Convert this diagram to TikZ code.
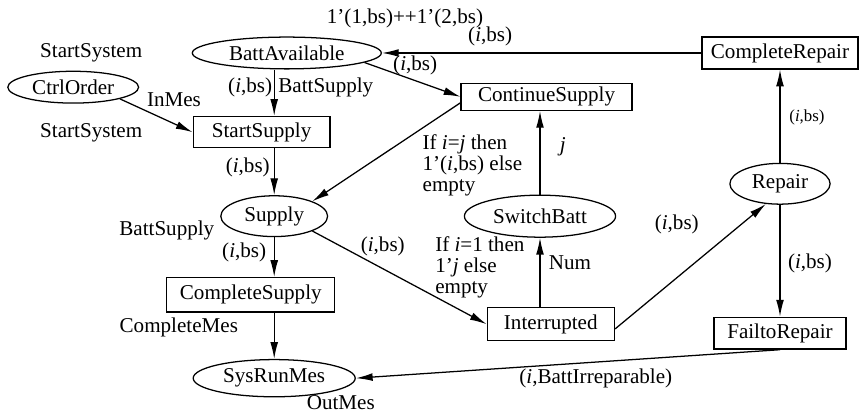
\documentclass[tikz,border=0pt]{standalone}
\usepackage{fontspec}
\setmainfont{Liberation Serif}
\usetikzlibrary{shapes.geometric,arrows.meta}

\begin{document}
\begin{tikzpicture}[
    petriplace/.style={draw,ellipse,inner sep=0pt,line width=0.6pt},
    petritrans/.style={draw,rectangle,inner sep=0pt,line width=0.6pt},
    petriarc/.style={line width=0.6pt,-{Latex[length=2.8mm,width=1.3mm]}},
    guard/.style={align=left,anchor=west,font=\linespread{0.83}\selectfont},
    font=\fontsize{10}{10}\selectfont]
    \useasboundingbox (0,0) rectangle (14.4,6.883);

    % Places
    \node[petriplace,minimum width=3.15cm,minimum height=0.53cm] (BattAvailable) at (4.78,6.0) {BattAvailable};
    \node[petriplace,minimum width=2.18cm,minimum height=0.53cm] (CtrlOrder) at (1.22,5.43) {CtrlOrder};
    \node[petriplace,minimum width=1.78cm,minimum height=0.68cm] (Supply) at (4.57,3.28) {Supply};
    \node[petriplace,minimum width=2.52cm,minimum height=0.70cm] (SwitchBatt) at (9.0,3.28) {SwitchBatt};
    \node[petriplace,minimum width=1.67cm,minimum height=0.68cm] (Repair) at (13.0,3.82) {Repair};
    \node[petriplace,minimum width=2.7cm,minimum height=0.62cm] (SysRunMes) at (4.57,0.58) {SysRunMes};

    % Transitions
    \node[petritrans,minimum width=2.28cm,minimum height=0.52cm] (StartSupply) at (4.36,4.68) {StartSupply};
    \node[petritrans,minimum width=2.85cm,minimum height=0.45cm] (ContinueSupply) at (9.11,5.27) {ContinueSupply};
    \node[petritrans,minimum width=2.6cm,minimum height=0.53cm] (CompleteRepair) at (13.0,6.0) {CompleteRepair};
    \node[petritrans,minimum width=2.8cm,minimum height=0.57cm] (CompleteSupply) at (4.18,1.97) {CompleteSupply};
    \node[petritrans,minimum width=2.12cm,minimum height=0.55cm] (Interrupted) at (9.18,1.48) {Interrupted};
    \node[petritrans,minimum width=2.2cm,minimum height=0.53cm] (FailtoRepair) at (13.0,1.33) {FailtoRepair};

    % Colour sets and initial markings
    \node (lblMarkBatt) at (6.75,6.58) {1'(1,bs)++1'(2,bs)};
    \node (lblStartSysTop) at (1.52,6.0) {StartSystem};
    \node (lblStartSysBot) at (1.52,4.67) {StartSystem};
    \node (lblBattSupplyA) at (5.43,5.43) {BattSupply};
    \node (lblBattSupplyB) at (2.78,3.05) {BattSupply};
    \node (lblNum) at (9.5,2.5) {Num};
    \node (lblCompleteMes) at (2.98,1.42) {CompleteMes};
    \node (lblOutMes) at (5.68,0.17) {OutMes};

    % Arcs
    \draw[petriarc] (CtrlOrder.south east) -- (StartSupply.west);
    \draw[petriarc] (BattAvailable.south -| Supply) -- (StartSupply.north -| Supply);
    \draw[petriarc] (StartSupply.south -| Supply) -- (Supply.north);
    \draw[petriarc] (Supply.south) -- (CompleteSupply.north -| Supply);
    \draw[petriarc] (CompleteSupply.south -| SysRunMes) -- (SysRunMes.north);
    \draw[petriarc] (BattAvailable.-7) -- (ContinueSupply.west);
    \draw[petriarc] ([yshift=-0.1cm]ContinueSupply.west) -- (Supply.north east);
    \draw[petriarc] (SwitchBatt.north) -- (ContinueSupply.south -| SwitchBatt);
    \draw[petriarc] (Supply.south east) -- (Interrupted.west);
    \draw[petriarc] (Interrupted.north -| SwitchBatt) -- (SwitchBatt.south);
    \draw[petriarc] ([yshift=-0.08cm]Interrupted.east) -- (Repair.235);
    \draw[petriarc] (Repair.north) -- (CompleteRepair.south);
    \draw[petriarc] (Repair.south) -- (FailtoRepair.north);
    \draw[petriarc] (CompleteRepair.west) -- (BattAvailable.east);
    \draw[petriarc] (FailtoRepair.south) -- (SysRunMes.east);

    % Arc inscriptions
    \node (lblInMes) at (2.9,5.22) {InMes};
    \node (lblBattIn) at (4.17,5.43) {(\textit{i},bs)};
    \node (lblRetBatt) at (8.17,6.27) {(\textit{i},bs)};
    \node (lblContBatt) at (6.92,5.8) {(\textit{i},bs)};
    \node (lblStartOut) at (4.13,4.1) {(\textit{i},bs)};
    \node[guard] (lblIfIJ) at (6.92,4.12) {If \textit{i}=\textit{j} then\\1'(\textit{i},bs) else\\empty};
    \node (lblJ) at (9.38,4.43) {\textit{j}};
    \node (lblSupplyOut) at (4.07,2.67) {(\textit{i},bs)};
    \node (lblInterIn) at (6.38,2.77) {(\textit{i},bs)};
    \node[guard] (lblIfI1) at (7.13,2.42) {If \textit{i}=1 then\\1'\textit{j} else\\empty};
    \node (lblToRepair) at (11.28,3.15) {(\textit{i},bs)};
    \node[font=\footnotesize] (lblRepairUp) at (13.45,4.93) {(\textit{i},bs)};
    \node (lblRepairDown) at (13.5,2.5) {(\textit{i},bs)};
    \node (lblIrrep) at (9.93,0.58) {(\textit{i},BattIrreparable)};
\end{tikzpicture}
\end{document}
